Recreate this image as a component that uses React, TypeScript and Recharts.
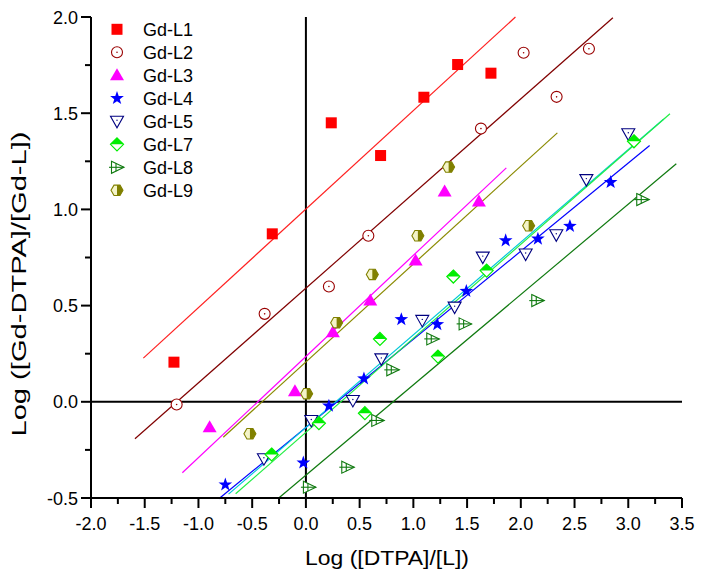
import { ReferenceLine, Scatter, ScatterChart, XAxis, YAxis } from 'recharts';

const FONT = "Arial, 'Liberation Sans', sans-serif";

const xTicks = [-2, -1.75, -1.5, -1.25, -1, -0.75, -0.5, -0.25, 0, 0.25, 0.5, 0.75, 1, 1.25, 1.5, 1.75, 2, 2.25, 2.5, 2.75, 3, 3.25, 3.5];
const yTicks = [-0.5, -0.25, 0, 0.25, 0.5, 0.75, 1, 1.25, 1.5, 1.75, 2];
const majorTicks = [-2, -1.5, -1, -0.5, 0, 0.5, 1, 1.5, 2, 2.5, 3, 3.5];

const seriesNames = ['Gd-L1', 'Gd-L2', 'Gd-L3', 'Gd-L4', 'Gd-L5', 'Gd-L7', 'Gd-L8', 'Gd-L9'];

const l1X = [-1.228, -0.313, 0.236, 0.695, 1.098, 1.412, 1.722];
const l1Y = [0.206, 0.873, 1.45, 1.28, 1.583, 1.753, 1.708];
const l2X = [-1.203, -0.384, 0.214, 0.581, 1.629, 2.026, 2.333, 2.634];
const l2Y = [-0.014, 0.457, 0.599, 0.863, 1.42, 1.814, 1.585, 1.835];
const l3X = [-0.896, -0.102, 0.251, 0.599, 1.021, 1.291, 1.61];
const l3Y = [-0.132, 0.055, 0.362, 0.527, 0.734, 1.093, 1.041];
const l4X = [-0.75, -0.024, 0.214, 0.54, 0.888, 1.223, 1.493, 1.859, 2.159, 2.457, 2.836];
const l4Y = [-0.431, -0.317, -0.021, 0.12, 0.428, 0.402, 0.575, 0.838, 0.847, 0.913, 1.141];
const l5X = [-0.391, 0.05, 0.437, 0.702, 1.083, 1.384, 1.646, 2.045, 2.33, 2.61, 3.0];
const l5Y = [-0.296, -0.097, 0.007, 0.223, 0.423, 0.492, 0.752, 0.768, 0.868, 1.155, 1.393];
const l7X = [-0.319, 0.121, 0.549, 0.689, 1.229, 1.372, 1.682, 3.053];
const l7Y = [-0.274, -0.111, -0.059, 0.327, 0.235, 0.651, 0.682, 1.354];
const l8X = [0.028, 0.385, 0.664, 0.804, 1.176, 1.477, 2.153, 3.13];
const l8Y = [-0.444, -0.34, -0.097, 0.166, 0.327, 0.405, 0.526, 1.051];
const l9X = [-0.521, 0.007, 0.286, 0.618, 1.042, 1.328, 2.073];
const l9Y = [-0.166, 0.042, 0.411, 0.662, 0.863, 1.22, 0.915];

// fitted lines: [x1, y1, x2, y2]
const l1Fit = [-1.513, 0.227, 1.95, 2.0];
const l2Fit = [-1.591, -0.192, 2.857, 1.996];
const l3Fit = [-1.15, -0.369, 1.865, 1.216];
const l4Fit = [-0.81, -0.504, 3.199, 1.332];
const l5Fit = [-0.72, -0.48, 3.33, 1.47];
const l7Fit = [-0.654, -0.478, 3.388, 1.497];
const l8Fit = [-0.261, -0.504, 3.447, 1.237];
const l9Fit = [-0.769, -0.184, 2.34, 1.398];

type Kind = 'square' | 'circle' | 'triUp' | 'star' | 'triDown' | 'diamond' | 'triRight' | 'hexagon';

const series: { xs: number[]; ys: number[]; fit: number[]; kind: Kind; color: string; lineColor: string }[] = [
  { xs: l1X, ys: l1Y, fit: l1Fit, kind: 'square', color: '#ff0000', lineColor: '#ff2020' },
  { xs: l2X, ys: l2Y, fit: l2Fit, kind: 'circle', color: '#990000', lineColor: '#800000' },
  { xs: l3X, ys: l3Y, fit: l3Fit, kind: 'triUp', color: '#ff00ff', lineColor: '#ff00ff' },
  { xs: l4X, ys: l4Y, fit: l4Fit, kind: 'star', color: '#0000ff', lineColor: '#0000ff' },
  { xs: l5X, ys: l5Y, fit: l5Fit, kind: 'triDown', color: '#000080', lineColor: '#00c8d8' },
  { xs: l7X, ys: l7Y, fit: l7Fit, kind: 'diamond', color: '#00ee00', lineColor: '#22ee44' },
  { xs: l8X, ys: l8Y, fit: l8Fit, kind: 'triRight', color: '#107a10', lineColor: '#107a10' },
  { xs: l9X, ys: l9Y, fit: l9Fit, kind: 'hexagon', color: '#808000', lineColor: '#8a8a00' },
];

function Marker({ kind, cx, cy, color }: { kind: Kind; cx: number; cy: number; color: string }) {
  switch (kind) {
    case 'square':
      return <rect x={cx - 5.5} y={cy - 5.5} width={11} height={11} fill={color} />;
    case 'circle':
      return (
        <g>
          <circle cx={cx} cy={cy} r={5.5} fill="#fff" stroke={color} strokeWidth={1.1} />
          <circle cx={cx} cy={cy} r={0.8} fill={color} />
        </g>
      );
    case 'triUp':
      return <polygon points={`${cx},${cy - 7} ${cx - 7},${cy + 5} ${cx + 7},${cy + 5}`} fill={color} />;
    case 'star': {
      const pts: string[] = [];
      for (let i = 0; i < 10; i++) {
        const r = i % 2 === 0 ? 7.2 : 2.9;
        const a = -Math.PI / 2 + (i * Math.PI) / 5;
        pts.push(`${cx + r * Math.cos(a)},${cy + r * Math.sin(a)}`);
      }
      return <polygon points={pts.join(' ')} fill={color} />;
    }
    case 'triDown':
      return (
        <g>
          <polygon points={`${cx - 6.5},${cy - 5} ${cx + 6.5},${cy - 5} ${cx},${cy + 6.5}`} fill="#fff" stroke={color} strokeWidth={1.1} />
          <circle cx={cx} cy={cy - 1} r={0.7} fill={color} />
        </g>
      );
    case 'diamond':
      return (
        <g>
          <polygon points={`${cx},${cy - 6.5} ${cx + 6.5},${cy} ${cx},${cy + 6.5} ${cx - 6.5},${cy}`} fill="#fff" stroke={color} strokeWidth={1.2} />
          <polygon points={`${cx},${cy - 6.5} ${cx + 6.5},${cy} ${cx - 6.5},${cy}`} fill={color} />
        </g>
      );
    case 'triRight':
      return (
        <g fill="none" stroke={color} strokeWidth={1.1}>
          <polygon points={`${cx - 5.5},${cy - 6} ${cx + 7},${cy} ${cx - 5.5},${cy + 6}`} fill="#fff" />
          <line x1={cx - 8} y1={cy} x2={cx + 7} y2={cy} />
          <line x1={cx - 1} y1={cy - 4} x2={cx - 1} y2={cy + 4} />
        </g>
      );
    case 'hexagon': {
      const r = 6;
      const h = r * 0.866;
      const full = `${cx - r / 2},${cy - h} ${cx + r / 2},${cy - h} ${cx + r},${cy} ${cx + r / 2},${cy + h} ${cx - r / 2},${cy + h} ${cx - r},${cy}`;
      const right = `${cx},${cy - h} ${cx + r / 2},${cy - h} ${cx + r},${cy} ${cx + r / 2},${cy + h} ${cx},${cy + h}`;
      return (
        <g>
          <polygon points={full} fill="#f4f4c8" stroke={color} strokeWidth={1.1} />
          <polygon points={right} fill={color} />
        </g>
      );
    }
  }
  return null;
}

function XTick({ x, y, payload }: any) {
  const v = payload.value as number;
  const major = majorTicks.includes(v);
  const axisY = y - 12;
  return (
    <g>
      <line x1={x} y1={axisY} x2={x} y2={axisY + (major ? 10 : 6)} stroke="#000" strokeWidth={2} />
      {major && (
        <text x={x} y={axisY + 32} textAnchor="middle" fontSize={18} fontFamily={FONT} fill="#000">
          {v.toFixed(1)}
        </text>
      )}
    </g>
  );
}

function YTick({ x, y, payload }: any) {
  const v = payload.value as number;
  const major = majorTicks.includes(v);
  const axisX = x + 13;
  return (
    <g>
      <line x1={axisX - (major ? 10 : 6)} y1={y} x2={axisX} y2={y} stroke="#000" strokeWidth={2} />
      {major && (
        <text x={x} y={y + 6.5} textAnchor="end" fontSize={18} fontFamily={FONT} fill="#000">
          {v.toFixed(1)}
        </text>
      )}
    </g>
  );
}

export default function App() {
  return (
    <div style={{ position: 'absolute', left: 0, top: 0, width: 704, height: 580, background: '#fff' }}>
      <ScatterChart width={704} height={580} margin={{ top: 17, right: 22, bottom: 0, left: 0 }}>
        <XAxis
          type="number"
          dataKey="x"
          domain={[-2, 3.5]}
          ticks={xTicks}
          interval={0}
          allowDataOverflow
          height={82}
          tickSize={10}
          tickMargin={2}
          tickLine={false}
          axisLine={{ stroke: '#000', strokeWidth: 2 }}
          tick={<XTick />}
        />
        <YAxis
          type="number"
          dataKey="y"
          domain={[-0.5, 2]}
          ticks={yTicks}
          interval={0}
          allowDataOverflow
          width={91}
          tickSize={10}
          tickMargin={3}
          tickLine={false}
          axisLine={{ stroke: '#000', strokeWidth: 2 }}
          tick={<YTick />}
        />
        <ReferenceLine x={0} stroke="#000" strokeWidth={2} />
        <ReferenceLine y={0} stroke="#000" strokeWidth={2} />
        {series.map((s, i) => (
          <ReferenceLine
            key={'fit' + i}
            segment={[
              { x: s.fit[0], y: s.fit[1] },
              { x: s.fit[2], y: s.fit[3] },
            ]}
            stroke={s.lineColor}
            strokeWidth={1.2}
            ifOverflow="visible"
          />
        ))}
        {series.map((s, i) => (
          <Scatter
            key={seriesNames[i]}
            name={seriesNames[i]}
            data={s.xs.map((x, j) => ({ x, y: s.ys[j] }))}
            isAnimationActive={false}
            shape={(p: any) => <Marker kind={s.kind} cx={p.cx} cy={p.cy} color={s.color} />}
          />
        ))}
      </ScatterChart>
      <svg width={704} height={580} style={{ position: 'absolute', left: 0, top: 0, pointerEvents: 'none' }}>
        {series.map((s, i) => (
          <g key={'lg' + i}>
            <Marker kind={s.kind} cx={117} cy={29.3 + i * 23} color={s.color} />
            <text x={143} y={29.3 + i * 23 + 6.5} fontSize={18} fontFamily={FONT} fill="#000">
              {seriesNames[i]}
            </text>
          </g>
        ))}
        <text x={387} y={565} textAnchor="middle" fontSize={21} fontFamily={FONT} fill="#000" textLength={164} lengthAdjust="spacingAndGlyphs">
          Log ([DTPA]/[L])
        </text>
        <text
          x={0}
          y={0}
          transform="translate(26,284) rotate(-90)"
          textAnchor="middle"
          fontSize={21}
          fontFamily={FONT}
          fill="#000"
          textLength={305}
          lengthAdjust="spacingAndGlyphs"
        >
          Log ([Gd-DTPA]/[Gd-L])
        </text>
      </svg>
    </div>
  );
}
